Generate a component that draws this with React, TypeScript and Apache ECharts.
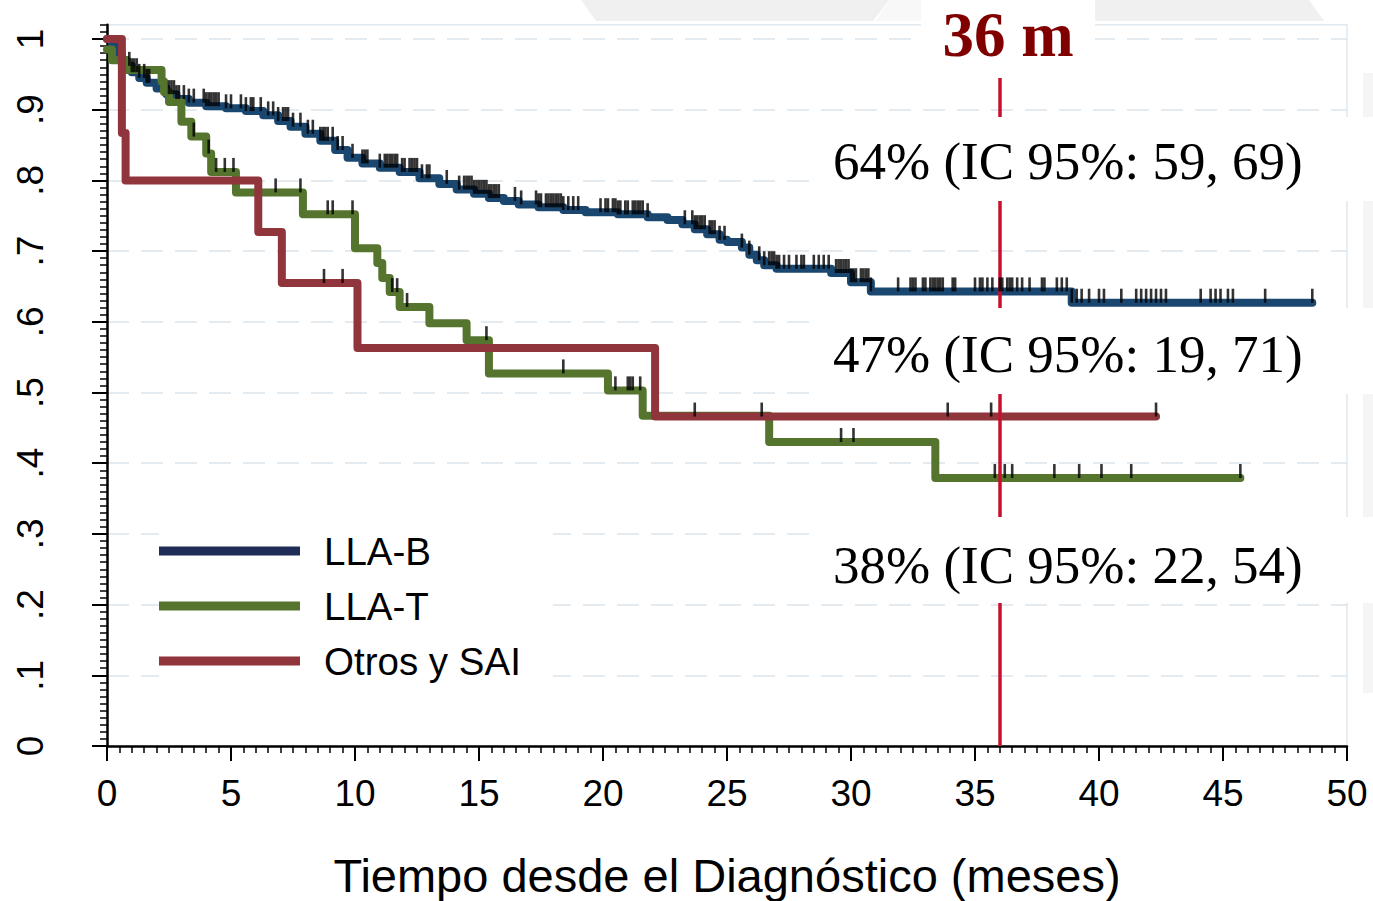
import React, { useEffect, useRef } from 'react';
import * as echarts from 'echarts';

// ---------- data ----------
const groups = ['LLA-B', 'LLA-T', 'Otros y SAI'];

// Kaplan-Meier step points: survival from each time onwards
const llaBTimes = [0, 0.2, 0.4, 0.6, 0.8, 1.0, 1.3, 1.6, 2.0, 2.4, 2.8, 3.3, 4.0, 4.8, 5.6, 6.3, 6.9, 7.4, 8.0, 8.6, 9.2, 9.7, 10.3, 11.0, 11.8, 12.6, 13.4, 14.1, 14.8, 15.4, 16.0, 16.6, 17.4, 18.4, 19.3, 20.6, 21.8, 22.6, 23.2, 23.7, 24.2, 24.7, 25.0, 25.6, 25.9, 26.2, 26.5, 27.0, 29.2, 30.0, 30.8, 38.9, 48.6];
const llaBSurv = [1.0, 0.99, 0.98, 0.97, 0.962, 0.953, 0.945, 0.938, 0.93, 0.922, 0.915, 0.91, 0.905, 0.902, 0.898, 0.892, 0.884, 0.876, 0.866, 0.856, 0.843, 0.832, 0.824, 0.818, 0.812, 0.803, 0.795, 0.787, 0.781, 0.775, 0.771, 0.766, 0.762, 0.758, 0.755, 0.752, 0.748, 0.744, 0.738, 0.731, 0.724, 0.716, 0.713, 0.705, 0.695, 0.687, 0.68, 0.675, 0.669, 0.656, 0.643, 0.627, 0.627];

const llaTTimes = [0, 0.2, 0.8, 2.2, 2.3, 2.5, 3.0, 3.4, 4.0, 4.2, 5.2, 7.9, 10.0, 10.9, 11.1, 11.4, 11.8, 13.0, 14.5, 15.4, 20.2, 21.6, 26.7, 33.4, 45.7];
const llaTSurv = [0.985, 0.97, 0.956, 0.94, 0.925, 0.911, 0.883, 0.862, 0.838, 0.812, 0.783, 0.752, 0.704, 0.683, 0.662, 0.642, 0.621, 0.598, 0.574, 0.527, 0.503, 0.467, 0.43, 0.379, 0.379];

const otrosTimes = [0, 0.6, 0.75, 6.1, 7.05, 10.1, 22.1, 42.3];
const otrosSurv = [1.0, 0.867, 0.8, 0.727, 0.655, 0.563, 0.466, 0.466];

// censoring times
const llaBCensored = [0.9, 1.0, 1.1, 1.2, 1.3, 1.5, 1.6, 1.7, 2.5, 2.6, 2.7, 2.8, 2.9, 3.1, 3.3, 3.5, 3.9, 4.0, 4.1, 4.2, 4.3, 4.4, 4.5, 4.8, 5.0, 5.4, 5.6, 5.8, 5.9, 6.2, 6.5, 6.7, 6.9, 7.1, 7.2, 7.3, 7.5, 7.8, 8.1, 8.3, 8.6, 8.7, 8.8, 8.9, 9.1, 9.3, 9.5, 9.9, 10.3, 10.4, 10.5, 11.0, 11.2, 11.3, 11.4, 11.5, 11.6, 11.7, 11.9, 12.0, 12.2, 12.3, 12.4, 12.5, 12.7, 12.9, 13.0, 13.7, 14.2, 14.4, 14.5, 14.6, 14.7, 14.8, 14.9, 15.0, 15.1, 15.2, 15.3, 15.4, 15.5, 15.6, 15.7, 15.8, 16.45, 16.7, 17.3, 17.4, 17.5, 17.7, 17.8, 17.9, 18.0, 18.1, 18.2, 18.3, 18.4, 18.6, 18.8, 19.0, 19.9, 20.1, 20.2, 20.4, 20.5, 20.6, 20.7, 20.9, 21.0, 21.2, 21.3, 21.4, 21.5, 21.6, 21.8, 23.3, 23.6, 23.7, 23.8, 23.9, 24.0, 24.1, 24.3, 24.4, 24.5, 24.7, 24.9, 25.6, 25.9, 26.3, 26.5, 26.7, 26.8, 26.9, 27.0, 27.1, 27.3, 27.5, 27.8, 28.0, 28.1, 28.5, 28.7, 28.9, 29.1, 29.4, 29.5, 29.6, 29.7, 29.8, 29.9, 30.0, 30.1, 30.2, 30.4, 30.5, 30.6, 30.7, 30.8, 31.9, 32.4, 32.5, 32.6, 32.9, 33.0, 33.2, 33.3, 33.4, 33.5, 33.6, 33.7, 34.1, 34.2, 35.0, 35.2, 35.3, 35.5, 35.7, 36.0, 36.1, 36.3, 36.4, 36.5, 36.7, 36.9, 37.2, 37.7, 37.8, 38.3, 38.5, 38.7, 38.9, 39.1, 39.3, 39.6, 40.0, 40.2, 40.9, 41.5, 41.7, 41.9, 42.1, 42.3, 42.5, 42.7, 44.1, 44.5, 44.7, 44.9, 45.2, 45.4, 46.7, 48.6];
const llaTCensored = [3.5, 4.1, 4.4, 4.75, 5.1, 6.8, 7.8, 8.9, 9.1, 9.9, 11.5, 11.7, 12.1, 15.3, 18.4, 20.5, 21.0, 21.1, 21.2, 21.5, 29.6, 30.1, 35.8, 36.2, 36.5, 38.2, 39.2, 40.1, 41.3, 45.7];
const otrosCensored = [8.75, 9.5, 23.7, 26.4, 33.9, 35.65, 42.3];

const xTicks = [0, 5, 10, 15, 20, 25, 30, 35, 40, 45, 50];
const yTicks = [0, 0.1, 0.2, 0.3, 0.4, 0.5, 0.6, 0.7, 0.8, 0.9, 1];
const landmark = 36;
const landmarkLabel = '36 m';
const estimateLabels = ['64% (IC 95%: 59, 69)', '47% (IC 95%: 19, 71)', '38% (IC 95%: 22, 54)'];
const xTitle = 'Tiempo desde el Diagnóstico (meses)';

// ---------- helpers ----------
const stepAt = (times: number[], surv: number[], t: number) => {
  let v = surv[0];
  for (let i = 0; i < times.length; i++) if (times[i] <= t + 1e-9) v = surv[i];
  return v;
};
const zip = (a: number[], b: number[]) => a.map((t, i) => [t, b[i]]);

const sans = '"Liberation Sans", Arial, Helvetica, sans-serif';
const serif = '"Liberation Serif", "Times New Roman", Times, serif';
const lineColors = ['#1a476f', '#55752f', '#90353b'];
const legendColors = ['#1e2c56', '#55752f', '#90353b'];

export default function App() {
  const ref = useRef<HTMLDivElement>(null);

  useEffect(() => {
    if (!ref.current) return;
    const chart = echarts.init(ref.current, undefined, { renderer: 'svg' });

    const curves = [
      { name: groups[0], data: zip(llaBTimes, llaBSurv), cens: llaBCensored.map((t) => [t, stepAt(llaBTimes, llaBSurv, t)]) },
      { name: groups[1], data: zip(llaTTimes, llaTSurv), cens: llaTCensored.map((t) => [t, stepAt(llaTTimes, llaTSurv, t)]) },
      { name: groups[2], data: zip(otrosTimes, otrosSurv), cens: otrosCensored.map((t) => [t, stepAt(otrosTimes, otrosSurv, t)]) },
    ];

    const series: any[] = [];
    curves.forEach((c, i) => {
      series.push({
        type: 'line',
        name: c.name,
        step: 'end',
        data: c.data,
        showSymbol: false,
        symbol: 'none',
        silent: true,
        z: 2 + i,
        itemStyle: { color: lineColors[i] },
        lineStyle: { color: lineColors[i], width: 8, cap: 'round', join: 'round' },
      });
    });
    curves.forEach((c, i) => {
      series.push({
        type: 'scatter',
        name: c.name + ' cens',
        data: c.cens,
        symbol: 'rect',
        symbolSize: [2.6, 14],
        symbolOffset: [0, -7],
        itemStyle: { color: '#000000' },
        silent: true,
        z: 6,
      });
    });
    series.push({
      type: 'line',
      name: 'landmark',
      data: [],
      silent: true,
      z: 8,
      markLine: {
        silent: true,
        symbol: ['none', 'none'],
        label: { show: false },
        lineStyle: { color: '#c8102e', width: 3.5, type: 'solid' },
        data: [{ xAxis: landmark }],
      },
    });

    const boxes = [
      { x: 810, y: 117, w: 563, h: 84, cy: 161 },
      { x: 810, y: 308, w: 563, h: 86, cy: 354 },
      { x: 810, y: 517, w: 563, h: 86, cy: 565 },
    ];

    const graphic: any[] = [
      { type: 'polygon', silent: true, z: -1, shape: { points: [[581, 0], [889, 0], [873, 21], [596, 21]] }, style: { fill: '#f0f0f0' } },
      { type: 'polygon', silent: true, z: -1, shape: { points: [[889, 0], [921, 0], [921, 21], [876, 21]] }, style: { fill: '#f8f8f8' } },
      { type: 'polygon', silent: true, z: -1, shape: { points: [[1095, 0], [1309, 0], [1324, 21], [1095, 21]] }, style: { fill: '#f0f0f0' } },
      { type: 'rect', silent: true, z: 1, shape: { x: 1363, y: 73, width: 10, height: 620 }, style: { fill: '#f5f5f5' } },
      { type: 'rect', silent: true, z: 100, shape: { x: 921, y: 0, width: 174, height: 78 }, style: { fill: '#ffffff' } },
      {
        type: 'text', silent: true, z: 101, x: 1008, y: 35,
        style: { text: landmarkLabel, fontFamily: serif, fontSize: 63, fontWeight: 'bold', lineHeight: 60, fill: '#800000', align: 'center', verticalAlign: 'middle', textAlign: 'center', textVerticalAlign: 'middle' },
      },
    ];
    boxes.forEach((b, i) => {
      graphic.push({ type: 'rect', silent: true, z: 100, shape: { x: b.x, y: b.y, width: b.w, height: b.h }, style: { fill: '#ffffff' } });
      graphic.push({
        type: 'text', silent: true, z: 101, x: 833, y: b.cy,
        style: { text: estimateLabels[i], fontFamily: serif, fontSize: 53, fill: '#000000', align: 'left', verticalAlign: 'middle', textAlign: 'left', textVerticalAlign: 'middle' },
      });
    });

    const yFmt = (v: number) => {
      const k = Math.round(v * 10);
      if (Math.abs(v * 10 - k) > 1e-6 || k > 10) return '';
      return k === 0 ? '0' : k === 10 ? '1' : '.' + k;
    };

    const option: any = {
      animation: false,
      backgroundColor: '#ffffff',
      grid: {
        left: 107, right: 26, top: 746 - 1.02 * 707, bottom: 155,
        show: true, borderColor: '#e1e8ee', borderWidth: 1.5, backgroundColor: 'transparent',
        containLabel: false, outerBoundsMode: 'none',
      },
      xAxis: {
        type: 'value', min: xTicks[0], max: xTicks[xTicks.length - 1], interval: 5,
        name: xTitle, nameLocation: 'middle', nameGap: 106,
        nameTextStyle: { fontSize: 47, fontFamily: sans, color: '#000', lineHeight: 47 },
        axisLine: { show: true, onZero: false, lineStyle: { color: '#000', width: 2.5 } },
        axisTick: { show: true, length: 15, lineStyle: { color: '#000', width: 2 } },
        minorTick: { show: true, splitNumber: 10, length: 7, lineStyle: { color: '#000', width: 1.5 } },
        axisLabel: { fontSize: 37, fontFamily: sans, color: '#000', margin: 29, lineHeight: 37, hideOverlap: false },
        splitLine: { show: false },
      },
      yAxis: [
        {
          type: 'value', min: 0, max: 1.02, interval: 0.1, position: 'left',
          axisLine: { show: true, onZero: false, lineStyle: { color: '#000', width: 2.5 } },
          axisTick: { show: true, length: 15, customValues: yTicks, lineStyle: { color: '#000', width: 2 } },
          axisLabel: { rotate: 90, fontSize: 37, fontFamily: sans, color: '#000', margin: 58, lineHeight: 37, customValues: yTicks, formatter: yFmt, hideOverlap: false },
          splitLine: { show: true, lineStyle: { color: '#dae4ec', width: 1.5, type: [22, 12] } },
        },
        {
          type: 'value', min: 0, max: 1.02, interval: 0.01, position: 'left', offset: 0,
          axisLine: { show: false },
          axisTick: { show: true, length: 7, lineStyle: { color: '#000', width: 1.5 } },
          axisLabel: { show: false },
          splitLine: { show: false },
        },
      ],
      legend: {
        show: true, orient: 'vertical', left: 159, top: 520,
        icon: 'rect', itemWidth: 141, itemHeight: 9, itemGap: 15,
        padding: [11, 32, 8, 0], backgroundColor: '#ffffff',
        selectedMode: false,
        textStyle: { fontSize: 38.5, fontFamily: sans, color: '#000', lineHeight: 40, padding: [0, 0, 0, 19] },
        data: groups.map((g, i) => ({ name: g, itemStyle: { color: legendColors[i] } })),
      },
      graphic,
      series,
    };

    chart.setOption(option);
    return () => chart.dispose();
  }, []);

  return <div ref={ref} style={{ position: 'fixed', left: 0, top: 0, width: 1373, height: 901 }} />;
}
